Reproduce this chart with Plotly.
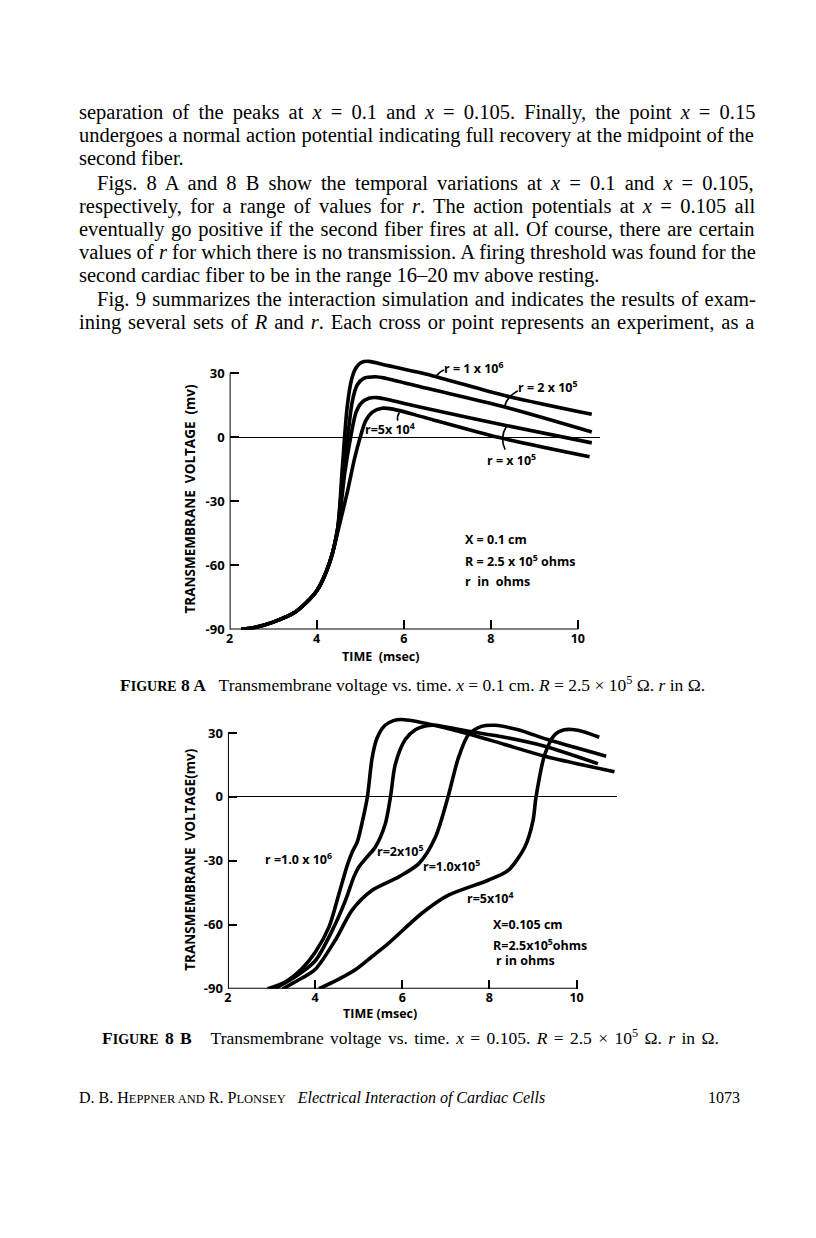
import plotly.graph_objects as go

# page is 816x1238; the browser puts the figure 8px in from the top-left corner
PAGE_W, PAGE_H, OFF = 816, 1238, 8
W, H = PAGE_W - 2 * OFF, PAGE_H - 2 * OFF

# ---------------- data: Figure 8 A (x = 0.1 cm) ----------------
A_r1e6_t = [2.27, 2.6, 3.0, 3.5, 4.0, 4.3, 4.48, 4.59, 4.70, 4.80, 4.90, 5.02, 5.2, 5.5, 6.65, 8.32, 10.32]
A_r1e6_v = [-90, -89, -86.6, -82, -72, -58.5, -43, -14, 14, 27, 32.5, 35, 35.6, 34.2, 28.9, 19.6, 10.8]
A_r2e5_t = [2.27, 2.6, 3.0, 3.5, 4.0, 4.3, 4.48, 4.60, 4.71, 4.82, 4.93, 5.08, 5.35, 5.6, 6.5, 8.32, 10.32]
A_r2e5_v = [-90, -89, -86.6, -82, -72, -58.5, -43, -17, 0, 17, 24.5, 27.6, 28.4, 27.6, 23.1, 14.2, 2.5]
A_r1e5_t = [2.27, 2.6, 3.0, 3.5, 4.0, 4.3, 4.5, 4.65, 4.78, 4.9, 5.02, 5.2, 5.38, 5.6, 6.5, 8.32, 10.32]
A_r1e5_v = [-90, -89, -86.6, -82, -72, -58.5, -41, -16, 0, 11.5, 16, 18.3, 18.6, 17.8, 13.6, 5.7, -2.6]
A_r5e4_t = [2.27, 2.6, 3.0, 3.5, 4.0, 4.3, 4.5, 4.7, 4.87, 5.0, 5.12, 5.28, 5.5, 5.75, 6.5, 8.17, 10.27]
A_r5e4_v = [-90, -89, -86.6, -82, -72, -58.7, -43, -26, -10, 0, 7.5, 11.8, 13.6, 13.2, 9.2, 0, -9.1]

# ---------------- data: Figure 8 B (x = 0.105 cm) ----------------
B_r1e6_t = [2.91, 3.3, 3.7, 4.0, 4.32, 4.55, 4.74, 4.85, 4.97, 5.08, 5.2, 5.31, 5.42, 5.6, 5.8, 6.0, 6.68, 7.59, 8.35, 9.27, 10.87]
B_r1e6_v = [-90, -87, -80.5, -73, -61, -45.3, -32, -26, -21, -12, 0, 18.4, 27.5, 33.5, 35.8, 36.3, 33.9, 29.2, 24.6, 19.1, 11.8]
B_r2e5_t = [3.07, 3.5, 4.0, 4.4, 4.7, 4.89, 5.0, 5.2, 5.38, 5.61, 5.73, 5.84, 6.07, 6.3, 6.53, 6.76, 7.44, 8.35, 9.27, 10.49]
B_r2e5_v = [-90, -85, -77, -62.4, -48.4, -37.5, -33, -28, -23.6, -12.7, 0, 15.2, 26.9, 31.5, 33.3, 33.6, 31.1, 28, 23.8, 15.6]
B_r1e5_t = [3.26, 3.7, 4.0, 4.47, 4.85, 5.31, 5.92, 6.38, 6.76, 7.05, 7.29, 7.52, 7.82, 8.13, 8.66, 9.34, 10.68]
B_r1e5_v = [-90, -85, -81, -67, -53.1, -43.8, -37.5, -31.3, -18.9, 0, 18.4, 29.2, 33.1, 33.6, 31.5, 26.9, 19.1]
B_r5e4_t = [4.09, 4.5, 4.93, 5.3, 5.69, 6.45, 7.06, 7.97, 8.43, 8.81, 9.0, 9.07, 9.27, 9.5, 9.72, 9.9, 10.18, 10.52]
B_r5e4_v = [-90, -86, -81, -75, -68.6, -54.6, -46.1, -39.1, -34.5, -23.6, -11.2, 0, 19.9, 29.2, 31.5, 31.6, 30.5, 28]

x_ticks = [2, 4, 6, 8, 10]
x_ticktext = ["2", "4", "6", "8", "10"]
y_ticks = [-90, -60, -30, 0, 30]
y_ticktext = ["-90", "-60", "-30", "0", "30"]

body_lines = [
    "separation of the peaks at <i>x</i> = 0.1 and <i>x</i> = 0.105. Finally, the point <i>x</i> = 0.15",
    "undergoes a normal action potential indicating full recovery at the midpoint of the",
    "second fiber.",
    "Figs. 8 A and 8 B show the temporal variations at <i>x</i> = 0.1 and <i>x</i> = 0.105,",
    "respectively, for a range of values for <i>r</i>. The action potentials at <i>x</i> = 0.105 all",
    "eventually go positive if the second fiber fires at all. Of course, there are certain",
    "values of <i>r</i> for which there is no transmission. A firing threshold was found for the",
    "second cardiac fiber to be in the range 16\u201320 mv above resting.",
    "Fig. 9 summarizes the interaction simulation and indicates the results of exam-",
    "ining several sets of <i>R</i> and <i>r</i>. Each cross or point represents an experiment, as a",
]
body_y = [113, 136, 159, 185, 208, 231, 254, 277, 302, 325]
body_x = [75, 75, 75, 93, 75, 75, 75, 75, 93, 75]
body_wordspace = [4.0, 0.2, 0, 4.0, 3.2, 1.5, 0.1, 0, 1.2, 1.8]

# ---------------- helpers ----------------
def px(x):
    return (x - OFF) / W

def py(y):
    return 1 - (y - OFF) / H

LINE = dict(color="black", width=3.6)
SANS = "Open Sans"
SERIF = "Liberation Serif"

fig = go.Figure()

for t, v in [(A_r1e6_t, A_r1e6_v), (A_r2e5_t, A_r2e5_v), (A_r1e5_t, A_r1e5_v), (A_r5e4_t, A_r5e4_v)]:
    fig.add_trace(go.Scatter(x=t, y=v, mode="lines", line=dict(LINE, shape="spline", smoothing=0.8),
                             xaxis="x", yaxis="y", hoverinfo="skip"))
for t, v in [(B_r1e6_t, B_r1e6_v), (B_r2e5_t, B_r2e5_v), (B_r1e5_t, B_r1e5_v), (B_r5e4_t, B_r5e4_v)]:
    fig.add_trace(go.Scatter(x=t, y=v, mode="lines", line=dict(LINE, shape="spline", smoothing=0.8),
                             xaxis="x2", yaxis="y2", hoverinfo="skip"))

tickfont = dict(family=SANS, size=12.5, color="black", weight=700)
common_x = dict(tickvals=x_ticks, ticktext=x_ticktext, ticks="inside", ticklen=9, tickwidth=1.5,
                tickcolor="black", showgrid=False, zeroline=False, showline=False, tickfont=tickfont,
                fixedrange=True)
common_y = dict(tickvals=y_ticks, ticktext=y_ticktext, ticks="inside", ticklen=9, tickwidth=1.5,
                tickcolor="black", showgrid=False, zeroline=True, zerolinecolor="black", zerolinewidth=1,
                showline=False, tickfont=dict(tickfont, size=13), range=[-90, 40], fixedrange=True,
                ticklabelstandoff=4)

# Figure A axes: x=2 at 226.7 px, 43.75 px/ms ; y=30 at 376 px, -90 at 634 px
fig.update_layout(
    xaxis=dict(common_x, domain=[px(226.7), px(226.7 + 8.5 * 43.75)], range=[2, 10.5], anchor="y"),
    yaxis=dict(common_y, domain=[py(634), py(634 - 130 * 2.15)], anchor="x"),
    xaxis2=dict(common_x, domain=[px(225), px(225 + 8.92 * 43.8)], range=[2, 10.92], anchor="y2"),
    yaxis2=dict(common_y, domain=[py(996), py(996 - 130 * 2.147)], anchor="x2"),
)

shapes = []
for xr, yr in [("x", "y"), ("x2", "y2")]:
    shapes.append(dict(type="line", xref=xr, yref=yr, x0=x_ticks[0], x1=x_ticks[0],
                       y0=y_ticks[0], y1=y_ticks[-1], line=dict(color="black", width=2)))
    shapes.append(dict(type="line", xref=xr, yref=yr, x0=x_ticks[0], x1=x_ticks[-1],
                       y0=y_ticks[0], y1=y_ticks[0], line=dict(color="black", width=2)))

# leader lines for figure A labels
leader = dict(color="black", width=1.6)
shapes += [
    dict(type="path", xref="x", yref="y", path="M 6.73,28.4 Q 6.8,30.5 6.93,31.6", line=leader),
    dict(type="path", xref="x", yref="y", path="M 8.32,14.4 Q 8.35,18.5 8.62,21.8", line=leader),
    dict(type="path", xref="x", yref="y", path="M 5.9,11.6 Q 5.84,9.8 5.86,7.8", line=leader),
    dict(type="path", xref="x", yref="y", path="M 8.36,5.2 Q 8.2,0 8.33,-5.8", line=leader),
]
fig.update_layout(shapes=shapes)

ann = []
lab = dict(family=SANS, size=12.5, color="black", weight=700)
def dtext(text, x, y, xr, yr, xanchor="center", size=12.5):
    ann.append(dict(text=text, x=x, y=y, xref=xr, yref=yr, xanchor=xanchor, yanchor="middle",
                    showarrow=False, font=dict(lab, size=size), align="left",
                    xshift=-2 if xanchor == "left" else 0))

# Figure A labels
dtext("r = 1 x 10<sup>6</sup>", 6.93, 32.5, "x", "y", "left")
dtext("r = 2 x 10<sup>5</sup>", 8.62, 23.5, "x", "y", "left")
dtext("r=5x 10<sup>4</sup>", 5.69, 4.0, "x", "y")
dtext("r = x 10<sup>5</sup>", 8.48, -10.5, "x", "y")
dtext("X = 0.1 cm", 7.4, -47.7, "x", "y", "left")
dtext("R = 2.5 x 10<sup>5</sup> ohms", 7.4, -57.9, "x", "y", "left")
dtext("r  in  ohms", 7.4, -67.7, "x", "y", "left")

# Figure B labels
dtext("r =1.0 x 10<sup>6</sup>", 3.62, -29.0, "x2", "y2")
dtext("r=2x10<sup>5</sup>", 5.95, -25.2, "x2", "y2")
dtext("r=1.0x10<sup>5</sup>", 7.14, -32.3, "x2", "y2")
dtext("r=5x10<sup>4</sup>", 8.03, -47.6, "x2", "y2")
dtext("X=0.105 cm", 8.09, -60.1, "x2", "y2", "left")
dtext("R=2.5x10<sup>5</sup>ohms", 8.09, -69.3, "x2", "y2", "left")
dtext("r in ohms", 8.15, -76.7, "x2", "y2", "left")

def ptext(text, x, y, size, family, xanchor="left", angle=0, weight="normal"):
    shift = {"left": -2, "right": 2}.get(xanchor, 0)
    ann.append(dict(text=text, x=px(x), y=py(y), xref="paper", yref="paper", xanchor=xanchor,
                    yanchor="middle", showarrow=False, textangle=angle, xshift=shift,
                    font=dict(family=family, size=size, color="black", weight=weight)))

# axis titles
ptext("TRANSMEMBRANE  VOLTAGE  (mv)", 187, 503, 13.5, SANS, "center", -90, 700)
ptext("TIME  (msec)", 378, 661, 12.5, SANS, "center", 0, 700)
ptext("TRANSMEMBRANE  VOLTAGE(mv)", 187, 866, 13.5, SANS, "center", -90, 700)
ptext("TIME (msec)", 378, 1021, 12.5, SANS, "center", 0, 700)

# body text
for s, x, y, ws in zip(body_lines, body_x, body_y, body_wordspace):
    ptext("<span style='word-spacing:%.1fpx'>%s</span>" % (ws, s), x, y, 20.5, SERIF)

sc = "<span style='font-size:14px'>"
ptext("<b>F" + sc + "IGURE</span> 8 A</b>   Transmembrane voltage vs. time. <i>x</i> = 0.1 cm. <i>R</i> = 2.5 \u00d7 10<sup>5</sup> \u03a9. <i>r</i> in \u03a9.",
      411, 689, 17.5, SERIF, "center")
ptext("<span style='word-spacing:2px'><b>F" + sc + "IGURE</span> 8 B</b>   Transmembrane voltage vs. time. <i>x</i> = 0.105. <i>R</i> = 2.5 \u00d7 10<sup>5</sup> \u03a9. <i>r</i> in \u03a9.</span>",
      408, 1045, 17.5, SERIF, "center")
sc2 = "<span style='font-size:12.5px'>"
ptext("D. B. H" + sc2 + "EPPNER AND</span> R. P" + sc2 + "LONSEY</span>   <i>Electrical Interaction of Cardiac Cells</i>",
      75, 1106, 16, SERIF)
ptext("1073", 740, 1106, 16, SERIF, "right")

fig.update_layout(annotations=ann, width=W, height=H, margin=dict(l=0, r=0, t=0, b=0),
                  paper_bgcolor="white", plot_bgcolor="rgba(0,0,0,0)", showlegend=False)

fig.write_html("out.html", config={"displayModeBar": False})
